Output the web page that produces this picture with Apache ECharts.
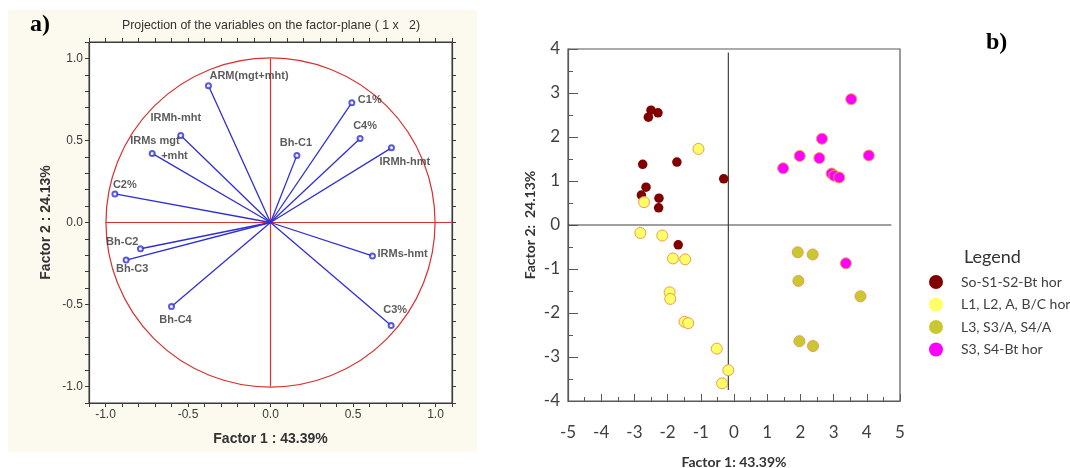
<!DOCTYPE html>
<html><head><meta charset="utf-8">
<script src="https://cdn.jsdelivr.net/npm/echarts@6/dist/echarts.min.js"></script>
<style>html,body{margin:0;padding:0;background:#fff}#c{width:1070px;height:468px}</style>
</head><body><div id="c"></div>
<script>
// ---------- Panel a: variable loadings ----------
const varNames = ['ARM(mgt+mht)','C1%','C4%','IRMh-hmt','Bh-C1','IRMh-mht','IRMs mgt\n+mht','C2%','Bh-C2','Bh-C3','Bh-C4','IRMs-hmt','C3%'];
const varF1 = [-0.376, 0.493, 0.543, 0.733, 0.160, -0.544, -0.717, -0.943, -0.788, -0.875, -0.600, 0.618, 0.731];
const varF2 = [0.834, 0.730, 0.512, 0.455, 0.409, 0.530, 0.421, 0.174, -0.160, -0.229, -0.512, -0.204, -0.628];
const tickLabelsA = ['-1.0','-0.5','0.0','0.5','1.0'];

// ---------- Panel b: sample scores ----------
const groupNames = ['So-S1-S2-Bt hor','L1, L2, A, B/C hor','L3, S3/A, S4/A','S3, S4-Bt hor'];
const soF1 = [-2.50,-2.58,-2.29,-2.75,-1.72,-0.31,-2.65,-2.79,-2.26,-2.27,-1.68];
const soF2 = [2.61,2.45,2.55,1.38,1.43,1.05,0.86,0.68,0.61,0.39,-0.45];
const lF1 = [-1.07,-2.71,-2.82,-2.16,-1.84,-1.47,-1.94,-1.92,-1.49,-1.38,-0.52,-0.17,-0.36];
const lF2 = [1.73,0.52,-0.18,-0.24,-0.76,-0.78,-1.53,-1.68,-2.20,-2.23,-2.81,-3.30,-3.60];
const l3F1 = [1.92,2.37,1.94,3.81,1.97,2.38];
const l3F2 = [-0.62,-0.67,-1.27,-1.62,-2.64,-2.75];
const sF1 = [3.53,2.65,1.98,2.57,4.06,1.48,2.94,3.02,3.17,3.37];
const sF2 = [2.86,1.96,1.57,1.52,1.58,1.29,1.17,1.12,1.08,-0.87];
const tickLabelsBx = ['-5','-4','-3','-2','-1','0','1','2','3','4','5'];
const tickLabelsBy = ['-4','-3','-2','-1','0','1','2','3','4'];
// reference cross lines of panel b (as drawn in the original)
const crossH = [[-5, 0], [4.74, 0]];
const crossV = [[-0.17, 3.92], [-0.17, -3.75]];

// ---------- label placement (pixels, relative to vector end) ----------
const labelLayout = [
  {align:'left', dx:2, dy:-9},
  {align:'left', dx:7, dy:-2},
  {align:'center', dx:6, dy:-12},
  {align:'left', dx:-11, dy:15},
  {align:'center', dx:0, dy:-11},
  {align:'center', dx:-4, dy:-17},
  {align:'left', dx:-21, dy:-4},
  {align:'left', dx:-1, dy:-8},
  {align:'right', dx:-1, dy:-6},
  {align:'center', dx:7, dy:10},
  {align:'center', dx:5, dy:14},
  {align:'left', dx:6, dy:-1},
  {align:'center', dx:5, dy:-15}
];

const zip = (a, b) => a.map((v, i) => [v, b[i]]);
const SYM = 5;
const loadData = varNames.map((n, i) => {
  const L = labelLayout[i];
  const two = n.indexOf('\n') >= 0;
  return {
    name: n,
    value: [varF1[i], varF2[i]],
    label: {
      show: true,
      position: [SYM/2 + L.dx, SYM/2 + L.dy],
      align: L.align,
      verticalAlign: 'middle',
      formatter: two ? '{a|' + n.split('\n')[0] + '}\n{b|' + n.split('\n')[1] + '}' : n
    }
  };
});

const chart = echarts.init(document.getElementById('c'), null, {renderer: 'canvas'});
const fontA = '"Liberation Sans", Arial, sans-serif';
const fontB = 'Lato, "Open Sans", sans-serif';

const axisA = (pos, gridIndex, labels) => ({
  gridIndex, position: pos, min: -1.1, max: 1.1, interval: 0.1,
  axisLine: {show: true, onZero: false, lineStyle: {color: '#3a3a3a', width: 1.2}},
  axisTick: {show: true, inside: false, length: 4, lineStyle: {color: '#3a3a3a'}},
  splitLine: {show: false},
  axisLabel: {
    show: labels, interval: 0, margin: 6, color: '#3a3a3a', fontFamily: fontA, fontSize: 12,
    formatter: v => { const k = Math.round(v * 10); return (k % 5 === 0) ? tickLabelsA[(k + 10) / 5] : ''; }
  }
});

const option = {
  animation: false,
  backgroundColor: '#ffffff',
  graphic: [
    {type: 'rect', z: -10, shape: {x: 8, y: 10, width: 469, height: 442}, style: {fill: '#fcf9ee'}},
    {type: 'text', x: 30, y: 25, style: {text: 'a)', font: 'bold 24px "Liberation Serif", serif', fill: '#000', textVerticalAlign: 'middle'}},
    {type: 'text', x: 986, y: 43, style: {text: 'b)', font: 'bold 24px "Liberation Serif", serif', fill: '#000', textVerticalAlign: 'middle'}},
    {type: 'text', x: 271, y: 26, style: {text: 'Projection of the variables on the factor-plane ( 1 x   2)', font: '12.4px ' + fontA, fill: '#333', textAlign: 'center', textVerticalAlign: 'middle'}},
    {type: 'text', x: 964, y: 257, style: {text: 'Legend', font: '18px ' + fontB, fill: '#333', textVerticalAlign: 'middle'}}
  ],
  grid: [
    {left: 89, top: 42, width: 363, height: 361, show: true, backgroundColor: '#ffffff', borderColor: '#3a3a3a', borderWidth: 1, outerBoundsMode: 'none', containLabel: false},
    {left: 568, top: 49, width: 332, height: 352, show: true, backgroundColor: 'transparent', borderColor: '#595959', borderWidth: 1.2, outerBoundsMode: 'none', containLabel: false}
  ],
  xAxis: [
    Object.assign(axisA('bottom', 0, true), {name: 'Factor 1 : 43.39%', nameLocation: 'middle', nameGap: 29,
      nameTextStyle: {fontFamily: fontA, fontSize: 14, fontWeight: 'bold', color: '#333'}}),
    axisA('top', 0, false),
    {
      gridIndex: 1, min: -5, max: 5, interval: 1,
      axisLine: {show: true, onZero: false, lineStyle: {color: '#595959', width: 1.2}},
      axisTick: {show: true, inside: true, length: 7, lineStyle: {color: '#595959'}},
      minorTick: {show: true, splitNumber: 2, length: 4, lineStyle: {color: '#595959'}},
      splitLine: {show: false}, minorSplitLine: {show: false},
      axisLabel: {margin: 23, color: '#404040', fontFamily: fontB, fontSize: 17,
        formatter: v => tickLabelsBx[Math.round(v) + 5]},
      name: 'Factor 1: 43.39%', nameLocation: 'middle', nameGap: 54,
      nameTextStyle: {fontFamily: fontB, fontSize: 14, fontWeight: 'bold', color: '#333'}
    }
  ],
  yAxis: [
    Object.assign(axisA('left', 0, true), {name: 'Factor 2 : 24.13%', nameLocation: 'middle', nameGap: 36,
      nameTextStyle: {fontFamily: fontA, fontSize: 14, fontWeight: 'bold', color: '#333'}}),
    axisA('right', 0, false),
    {
      gridIndex: 1, min: -4, max: 4, interval: 1,
      axisLine: {show: true, onZero: false, lineStyle: {color: '#595959', width: 1.2}},
      axisTick: {show: true, inside: true, length: 10, lineStyle: {color: '#595959'}},
      minorTick: {show: true, splitNumber: 2, length: 5, lineStyle: {color: '#595959'}},
      splitLine: {show: false}, minorSplitLine: {show: false},
      axisLabel: {margin: 8, color: '#404040', fontFamily: fontB, fontSize: 17,
        formatter: v => tickLabelsBy[Math.round(v) + 4]},
      name: 'Factor 2:  24.13%', nameLocation: 'middle', nameGap: 31,
      nameTextStyle: {fontFamily: fontB, fontSize: 14, fontWeight: 'bold', color: '#333'}
    }
  ],
  legend: {
    data: [
      {name: groupNames[0], itemStyle: {borderWidth: 0}},
      {name: groupNames[1], itemStyle: {borderWidth: 0}},
      {name: groupNames[2], itemStyle: {borderWidth: 0}},
      {name: groupNames[3], itemStyle: {borderWidth: 0}}
    ],
    orient: 'vertical', left: 929, top: 275, padding: 0,
    itemWidth: 14, itemHeight: 14, itemGap: 8.5, icon: 'circle',
    textStyle: {fontFamily: fontB, fontSize: 14, color: '#404040', padding: [0, 0, 0, 13]}
  },
  series: [
    // unit circle
    {
      type: 'custom', xAxisIndex: 0, yAxisIndex: 0, silent: true, z: 2,
      data: [[0, 0]],
      renderItem: (params, api) => {
        const c = api.coord([api.value(0), api.value(1)]);
        const r = api.size([1, 1]);
        return {type: 'circle', shape: {cx: c[0], cy: c[1], r: (r[0] + r[1]) / 2},
          style: {fill: 'none', stroke: '#d93030', lineWidth: 1.2}};
      }
    },
    {type: 'line', xAxisIndex: 0, yAxisIndex: 0, data: [[-1, 0], [1.1, 0]], symbol: 'none', silent: true,
      lineStyle: {color: '#d93030', width: 1.2}, z: 2},
    {type: 'line', xAxisIndex: 0, yAxisIndex: 0, data: [[0, 1], [0, -1]], symbol: 'none', silent: true,
      lineStyle: {color: '#d93030', width: 1.2}, z: 2},
    // vectors
    {
      type: 'custom', xAxisIndex: 0, yAxisIndex: 0, silent: true, z: 3,
      data: zip(varF1, varF2),
      renderItem: (params, api) => {
        const o = api.coord([0, 0]);
        const p = api.coord([api.value(0), api.value(1)]);
        return {type: 'line', shape: {x1: o[0], y1: o[1], x2: p[0], y2: p[1]},
          style: {stroke: '#2f2fd6', lineWidth: 1.3}};
      }
    },
    {
      type: 'scatter', xAxisIndex: 0, yAxisIndex: 0, z: 4,
      symbol: 'emptyCircle', symbolSize: SYM,
      itemStyle: {color: '#2f2fd6', borderColor: '#2f2fd6', borderWidth: 1.3},
      label: {fontFamily: fontA, fontSize: 11, fontWeight: 'bold', color: '#333', lineHeight: 15,
        rich: {a: {fontFamily: fontA, fontSize: 11, fontWeight: 'bold', color: '#333', lineHeight: 15},
               b: {fontFamily: fontA, fontSize: 11, fontWeight: 'bold', color: '#333', lineHeight: 15, padding: [0, 0, 0, 31]}}},
      data: loadData
    },
    // panel b cross lines
    {type: 'line', xAxisIndex: 2, yAxisIndex: 2, data: crossH, symbol: 'none', silent: true,
      lineStyle: {color: '#404040', width: 1.2}, z: 1},
    {type: 'line', xAxisIndex: 2, yAxisIndex: 2, data: crossV, symbol: 'none', silent: true,
      lineStyle: {color: '#404040', width: 1.2}, z: 1},
    // samples
    {name: groupNames[0], type: 'scatter', xAxisIndex: 2, yAxisIndex: 2, symbolSize: 9.5, z: 3,
      itemStyle: {color: '#800000', opacity: 1}, data: zip(soF1, soF2)},
    {name: groupNames[1], type: 'scatter', xAxisIndex: 2, yAxisIndex: 2, symbolSize: 11, z: 3,
      itemStyle: {color: '#ffff66', borderColor: '#f09a50', borderWidth: 1, opacity: 1}, data: zip(lF1, lF2)},
    {name: groupNames[2], type: 'scatter', xAxisIndex: 2, yAxisIndex: 2, symbolSize: 11, z: 3,
      itemStyle: {color: '#c9c832', borderColor: '#f09a50', borderWidth: 1, opacity: 1}, data: zip(l3F1, l3F2)},
    {name: groupNames[3], type: 'scatter', xAxisIndex: 2, yAxisIndex: 2, symbolSize: 11, z: 3,
      itemStyle: {color: '#ff00ff', borderColor: '#f09a50', borderWidth: 1, opacity: 1}, data: zip(sF1, sF2)}
  ]
};
chart.setOption(option);
</script>
</body></html>
